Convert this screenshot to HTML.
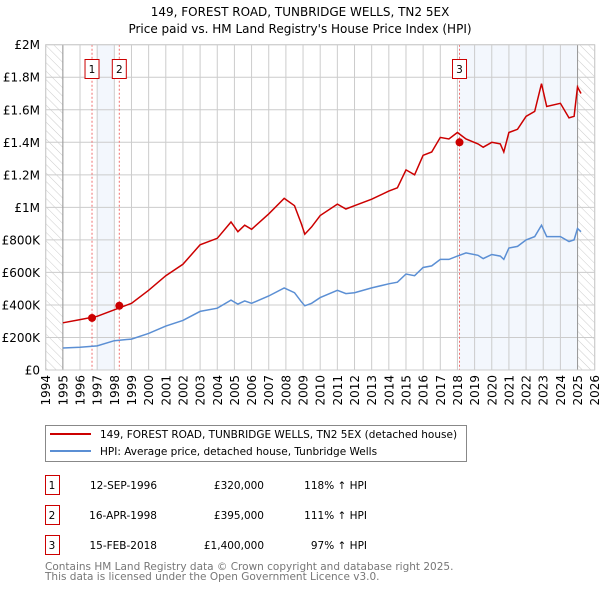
<!DOCTYPE html>
<html><head><meta charset="utf-8"><style>
body{margin:0;background:#fff;}
svg{display:block;font-family:"DejaVu Sans","Liberation Sans",sans-serif;}
</style></head><body>
<svg id="chart" width="600" height="590" xmlns="http://www.w3.org/2000/svg">
<defs><pattern id="hatch" width="6" height="6" patternUnits="userSpaceOnUse" patternTransform="rotate(-45)"><line x1="0" y1="0" x2="0" y2="6" stroke="#ccc" stroke-width="1"/></pattern></defs>
<text x="300" y="16" text-anchor="middle" font-size="12">149, FOREST ROAD, TUNBRIDGE WELLS, TN2 5EX</text>
<text x="300" y="33" text-anchor="middle" font-size="12">Price paid vs. HM Land Registry's House Price Index (HPI)</text>
<g id="plot"></g>
<g>
<rect x="45.5" y="425.5" width="421" height="36" fill="#fff" stroke="#888"/>
<line x1="50" y1="434" x2="91" y2="434" stroke="#cc0000" stroke-width="2"/>
<text x="100" y="438" font-size="10.5">149, FOREST ROAD, TUNBRIDGE WELLS, TN2 5EX (detached house)</text>
<line x1="50" y1="451" x2="91" y2="451" stroke="#5b8fd4" stroke-width="2"/>
<text x="100" y="455" font-size="10.5">HPI: Average price, detached house, Tunbridge Wells</text>
</g>
<g id="table" font-size="10.5"></g>
<text x="45" y="570" font-size="10.5" fill="#777">Contains HM Land Registry data © Crown copyright and database right 2025.</text>
<text x="45" y="580" font-size="10.5" fill="#777">This data is licensed under the Open Government Licence v3.0.</text>
</svg>
<script>
const hpiDates=[1995,1996,1997,1998,1999,2000,2001,2002,2003,2004,2004.8,2005.2,2005.6,2006,2007,2007.9,2008.5,2008.9,2009.1,2009.5,2010,2011,2011.5,2012,2013,2014,2014.5,2015,2015.5,2016,2016.5,2017,2017.5,2018,2018.5,2019.2,2019.5,2020,2020.5,2020.7,2021,2021.5,2022,2022.5,2022.9,2023.2,2024,2024.5,2024.8,2025.0,2025.2];
const hpiValues=[135,140,148,180,190,225,270,305,360,380,430,405,425,410,455,505,475,420,395,410,445,490,470,475,505,530,540,590,580,630,640,680,680,700,720,705,685,710,700,680,750,760,800,820,890,820,820,790,800,870,850];
const redValues=[290,310,330,370,410,490,580,650,770,810,910,850,890,865,960,1055,1010,900,835,880,950,1020,990,1010,1050,1100,1120,1230,1200,1320,1340,1430,1420,1460,1420,1390,1370,1400,1390,1340,1460,1480,1560,1590,1760,1620,1640,1550,1560,1740,1700];
const saleDates=[1996.7,1998.29,2018.12];
const salePrices=[320,395,1400];
const saleLabels=["1","2","3"];
const saleDateText=["12-SEP-1996","16-APR-1998","15-FEB-2018"];
const salePriceText=["£320,000","£395,000","£1,400,000"];
const salePctText=["118% ↑ HPI","111% ↑ HPI","97% ↑ HPI"];
const yTicks=[0,200,400,600,800,1000,1200,1400,1600,1800,2000];
const yTickLabels=["£0","£200K","£400K","£600K","£800K","£1M","£1.2M","£1.4M","£1.6M","£1.8M","£2M"];
const years=[];for(let y=1994;y<=2026;y++)years.push(y);

const X0=45.7,X1=594.7,Y0=370,Y1=44.7;
const xs=d=>X0+(d-1994)/(2026-1994)*(X1-X0);
const ys=v=>Y0-v/2000*(Y0-Y1);
const NS="http://www.w3.org/2000/svg";
const plot=document.getElementById('plot');
function mk(tag,attrs,parent){const e=document.createElementNS(NS,tag);for(const k in attrs)e.setAttribute(k,attrs[k]);(parent||plot).appendChild(e);return e;}

const bg=mk('rect',{x:X0,y:Y1,width:X1-X0,height:Y0-Y1,fill:'#fff'});

let h=mk('rect',{x:X0,y:Y1,width:xs(1995)-X0,height:Y0-Y1,fill:'url(#hatch)'});

h=mk('rect',{x:xs(2025),y:Y1,width:X1-xs(2025),height:Y0-Y1,fill:'url(#hatch)'});

let s=mk('rect',{x:xs(1997),y:Y1,width:xs(1998)-xs(1997),height:Y0-Y1,fill:'#eef3fc',opacity:0.7});

s=mk('rect',{x:xs(saleDates[2]),y:Y1,width:xs(2025)-xs(saleDates[2]),height:Y0-Y1,fill:'#eef3fc',opacity:0.7});


yTicks.forEach((t,i)=>{
 const l=mk('line',{x1:X0,x2:X1,y1:ys(t),y2:ys(t),stroke:'#ccc'});
 
 const tx=mk('text',{x:40,y:ys(t)+4.5,'text-anchor':'end','font-size':'12'});tx.textContent=yTickLabels[i];
 
});
years.forEach(y=>{
 const l=mk('line',{x1:xs(y),x2:xs(y),y1:Y1,y2:Y0,stroke:'#ccc'});
 
 const tx=mk('text',{x:0,y:0,'font-size':'12','text-anchor':'end',transform:`translate(${xs(y)+4.5},${Y0+5}) rotate(-90)`});tx.textContent=y;
 
});
[1995,2025].forEach(y=>{const l=mk('line',{x1:xs(y),x2:xs(y),y1:Y1,y2:Y0,stroke:'#999'});
 });

saleDates.forEach((d,i)=>{
 const l=mk('line',{x1:xs(d),x2:xs(d),y1:Y1,y2:Y0,stroke:'#f07070','stroke-dasharray':'2,2'});
 
 const b=mk('rect',{x:xs(d)-7,y:59.5,width:14,height:19,fill:'#fff',stroke:'#cc0000'});
 
 const t=mk('text',{x:xs(d),y:73,'text-anchor':'middle','font-size':'10.5'});t.textContent=saleLabels[i];
 
});

const pts=(vals)=>hpiDates.map((d,i)=>xs(d).toFixed(1)+','+ys(vals[i]).toFixed(1)).join(' ');
const hl=mk('polyline',{points:pts(hpiValues),fill:'none',stroke:'#5b8fd4','stroke-width':1.5});

const rl=mk('polyline',{points:pts(redValues),fill:'none',stroke:'#cc0000','stroke-width':1.5});

saleDates.forEach((d,i)=>{const c=mk('circle',{cx:xs(d),cy:ys(salePrices[i]),r:4,fill:'#cc0000'});
 });
const border=mk('rect',{x:X0,y:Y1,width:X1-X0,height:Y0-Y1,fill:'none',stroke:'#ccc'});


const tb=document.getElementById('table');
saleLabels.forEach((lab,i)=>{
 const cy=485+i*30;
 const b=mk('rect',{x:45.5,y:cy-9.5,width:14,height:19,fill:'#fff',stroke:'#cc0000'},tb);
 
 const cells=[[52,'middle',lab],[157,'end',saleDateText[i]],[264,'end',salePriceText[i]],[367,'end',salePctText[i]]];
 cells.forEach(c=>{const t=mk('text',{x:c[0],y:cy+4,'text-anchor':c[1]},tb);t.textContent=c[2];
  });
});
</script>
</body></html>
